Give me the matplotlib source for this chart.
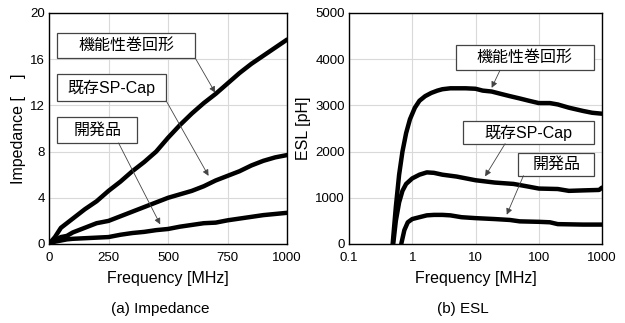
import matplotlib
matplotlib.use("Agg")
import matplotlib.pyplot as plt
from matplotlib.patches import Rectangle
from matplotlib.ticker import FixedLocator, FixedFormatter, NullLocator

plt.rcParams['font.family'] = ['Liberation Sans', 'Noto Sans CJK JP', 'DejaVu Sans']

series_names = ["機能性巻回形", "既存SP-Cap", "開発品"]

# (a) Impedance
imp_freq = [0, 25, 50, 75, 100, 150, 200, 250, 300, 350, 400, 450, 500, 550, 600,
            650, 700, 750, 800, 850, 900, 950, 1000]
imp_wound = [0, 0.6, 1.4, 1.8, 2.2, 3.0, 3.7, 4.6, 5.4, 6.3, 7.1, 8.0, 9.2, 10.3, 11.3,
             12.2, 13.0, 13.9, 14.8, 15.6, 16.3, 17.0, 17.7]
imp_spcap = [0, 0.3, 0.6, 0.7, 1.0, 1.4, 1.8, 2.0, 2.4, 2.8, 3.2, 3.6, 4.0, 4.3, 4.6,
             5.0, 5.5, 5.9, 6.3, 6.8, 7.2, 7.5, 7.7]
imp_dev = [0, 0.2, 0.3, 0.4, 0.45, 0.5, 0.55, 0.6, 0.8, 0.95, 1.05, 1.2, 1.3, 1.5, 1.65,
           1.8, 1.85, 2.05, 2.2, 2.35, 2.5, 2.6, 2.7]

# (b) ESL
esl_wound_f = [0.49, 0.55, 0.62, 0.7, 0.8, 0.92, 1.1, 1.3, 1.6, 2, 2.5, 3, 4, 5, 7, 10,
               13, 18, 25, 35, 50, 70, 100, 150, 200, 300, 500, 700, 1000]
esl_wound = [0, 800, 1500, 2000, 2400, 2700, 2950, 3100, 3200, 3270, 3320, 3350, 3370,
             3370, 3370, 3360, 3320, 3300, 3250, 3200, 3150, 3100, 3050, 3050, 3020,
             2950, 2880, 2840, 2820]
esl_spcap_f = [0.5, 0.55, 0.62, 0.7, 0.8, 1.0, 1.3, 1.7, 2.2, 3, 5, 10, 20, 40, 70, 100,
               200, 300, 500, 900, 1000]
esl_spcap = [0, 500, 900, 1150, 1300, 1420, 1500, 1550, 1540, 1500, 1460, 1380, 1330,
             1300, 1240, 1200, 1190, 1150, 1160, 1170, 1220]
esl_dev_f = [0.67, 0.75, 0.85, 1.0, 1.3, 1.7, 2.2, 3, 4, 6, 10, 20, 35, 50, 100, 150,
             200, 500, 1000]
esl_dev = [0, 300, 470, 540, 580, 620, 630, 630, 620, 580, 560, 540, 520, 490, 480,
           470, 430, 420, 420]

fig = plt.figure(figsize=(6.25, 3.23), dpi=100)
ax1 = fig.add_axes([0.0784, 0.2446, 0.381, 0.7152])
ax2 = fig.add_axes([0.5584, 0.2446, 0.4048, 0.7152])

FS = 9.5
LW = 3.2
grid_kw = dict(color='#d9d9d9', lw=0.8)

# ---- (a)
for y in (imp_wound, imp_spcap, imp_dev):
    ax1.plot(imp_freq, y, color='black', lw=LW, solid_capstyle='round', zorder=3)
ax1.set_xlim(0, 1000)
ax1.set_ylim(0, 20)
ax1.set_xticks([0, 250, 500, 750, 1000])
ax1.set_yticks([0, 4, 8, 12, 16, 20])
ax1.grid(True, **grid_kw)
ax1.set_axisbelow(True)
ax1.set_xlabel("Frequency [MHz]", fontsize=11.5, labelpad=5)
ax1.set_ylabel("Impedance [    ]", fontsize=11.5, labelpad=3)

boxes1 = [  # (x0, x1, y0, y1), arrow start, arrow end
    ((35, 614, 16.1, 18.3), (614, 16.1), (698, 13.1)),
    ((35, 492, 12.35, 14.7), (492, 12.4), (670, 5.9)),
    ((35, 369, 8.75, 11.0), (292, 8.75), (467, 1.7)),
]
for name, (bx, st, en) in zip(series_names, boxes1):
    x0, x1, y0, y1 = bx
    ax1.add_patch(Rectangle((x0, y0), x1 - x0, y1 - y0, fc='white', ec='#444444',
                            lw=0.9, zorder=4))
    ax1.text((x0 + x1) / 2, (y0 + y1) / 2, name, ha='center', va='center',
             fontsize=11.5, zorder=5)
    ax1.annotate('', xy=en, xytext=st,
                 arrowprops=dict(arrowstyle='-|>', color='#444444', lw=0.6,
                                 mutation_scale=9, shrinkA=0, shrinkB=0), zorder=5)

# ---- (b)
for f, y in ((esl_wound_f, esl_wound), (esl_spcap_f, esl_spcap), (esl_dev_f, esl_dev)):
    ax2.plot(f, y, color='black', lw=LW, solid_capstyle='round', zorder=3)
ax2.set_xscale('log')
ax2.set_xlim(0.1, 1000)
ax2.set_ylim(0, 5000)
ax2.xaxis.set_major_locator(FixedLocator([0.1, 1, 10, 100, 1000]))
ax2.xaxis.set_major_formatter(FixedFormatter(["0.1", "1", "10", "100", "1000"]))
ax2.xaxis.set_minor_locator(NullLocator())
ax2.set_yticks([0, 1000, 2000, 3000, 4000, 5000])
ax2.grid(True, **grid_kw)
ax2.set_axisbelow(True)
ax2.set_xlabel("Frequency [MHz]", fontsize=11.5, labelpad=5)
ax2.set_ylabel("ESL [pH]", fontsize=11.5, labelpad=3)

boxes2 = [
    ((4.9, 738, 3773, 4300), (24.4, 3760), (18.0, 3380)),
    ((6.4, 738, 2172, 2655), (29.4, 2172), (14.2, 1465)),
    ((47.8, 738, 1479, 1970), (57.3, 1479), (31.2, 635)),
]
for name, (bx, st, en) in zip(series_names, boxes2):
    x0, x1, y0, y1 = bx
    ax2.add_patch(Rectangle((x0, y0), x1 - x0, y1 - y0, fc='white', ec='#444444',
                            lw=0.9, zorder=4))
    xc = (x0 * x1) ** 0.5
    ax2.text(xc, (y0 + y1) / 2, name, ha='center', va='center', fontsize=11.5, zorder=5)
    ax2.annotate('', xy=en, xytext=st,
                 arrowprops=dict(arrowstyle='-|>', color='#444444', lw=0.6,
                                 mutation_scale=9, shrinkA=0, shrinkB=0), zorder=5)

for ax in (ax1, ax2):
    ax.tick_params(labelsize=FS, length=0)
    ax.tick_params(axis='x', pad=6)
    ax.tick_params(axis='y', pad=3)
    for s in ax.spines.values():
        s.set_linewidth(1.0)
        s.set_color('black')

fig.text(0.257, 0.044, "(a) Impedance", ha='center', va='center', fontsize=11)
fig.text(0.740, 0.044, "(b) ESL", ha='center', va='center', fontsize=11)

fig.savefig("out.png", dpi=100, facecolor='white')
